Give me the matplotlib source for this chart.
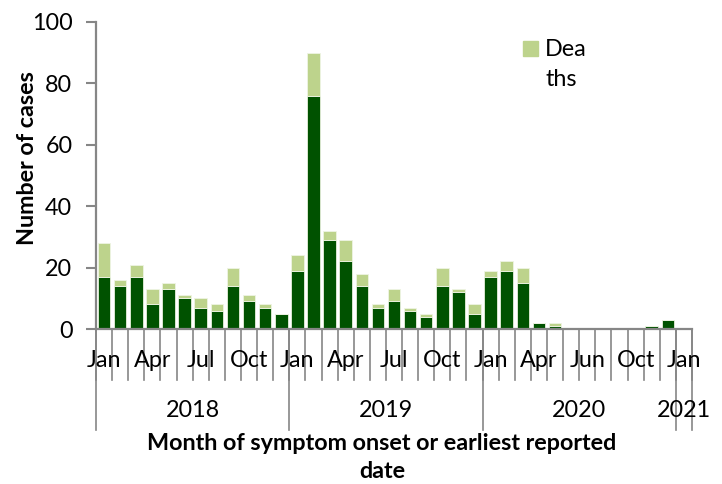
import numpy as np
import matplotlib
matplotlib.use('Agg')
import matplotlib.pyplot as plt
import matplotlib.transforms as mtransforms

plt.rcParams['font.family'] = ['Lato', 'DejaVu Sans']

# monthly counts Jan 2018 - Jan 2021
cases = [17, 14, 17, 8, 13, 10, 7, 6, 14, 9, 7, 5,
         19, 76, 29, 22, 14, 7, 9, 6, 4, 14, 12, 5,
         17, 19, 15, 2, 1, 0, 0, 0, 0, 0, 1, 3,
         0]
deaths = [11, 2, 4, 5, 2, 1, 3, 2, 6, 2, 1, 0,
          5, 14, 3, 7, 4, 1, 4, 1, 1, 6, 1, 3,
          2, 3, 5, 0, 1, 0, 0, 0, 0, 0, 0, 0,
          0]
month_labels = {0: 'Jan', 3: 'Apr', 6: 'Jul', 9: 'Oct',
                12: 'Jan', 15: 'Apr', 18: 'Jul', 21: 'Oct',
                24: 'Jan', 27: 'Apr', 30: 'Jun', 33: 'Oct',
                36: 'Jan'}
years = ['2018', '2019', '2020', '2021']
year_start = [0, 12, 24, 36]
year_end = [12, 24, 36, 37]

dark = '#005200'
light = '#bdd38c'
grey = '#868686'
fs = 16.8

x = np.arange(len(cases))

fig = plt.figure(figsize=(7.22, 4.84), dpi=100)
ax = fig.add_axes([96 / 722, 1 - 329 / 484, 596 / 722, 307 / 484])

ax.bar(x, cases, width=0.78, color=dark, edgecolor='#e8f0dc', linewidth=0.6)
ax.bar(x, deaths, bottom=cases, width=0.78, color=light, edgecolor='#eef4e4', linewidth=0.6)

ax.set_xlim(-0.5, len(cases) - 0.5)
ax.set_ylim(0, 100)
ax.set_yticks([0, 20, 40, 60, 80, 100])
ax.tick_params(axis='y', labelsize=fs, length=7, width=1.5, color=grey, pad=10)
ax.set_xticks([])
for s in ['top', 'right']:
    ax.spines[s].set_visible(False)
for s in ['left', 'bottom']:
    ax.spines[s].set_color(grey)
    ax.spines[s].set_linewidth(1.6)

trans = mtransforms.blended_transform_factory(ax.transData, ax.transAxes)

# month separators
for b in np.arange(len(cases) + 1) - 0.5:
    ax.plot([b, b], [0, -0.166], transform=trans, color=grey, lw=1.2, clip_on=False)
# year separators
for b in year_start + [len(cases)]:
    ax.plot([b - 0.5, b - 0.5], [0, -0.33], transform=trans, color=grey, lw=1.2, clip_on=False)

for i, lab in month_labels.items():
    ax.text(i, -0.101, lab, transform=trans, ha='center', va='center', fontsize=fs)
for yl, s, e in zip(years, year_start, year_end):
    ax.text((s + e - 1) / 2, -0.264, yl, transform=trans, ha='center', va='center', fontsize=fs)

fig.text(28 / 722, 1 - 158 / 484, 'Number of cases', rotation=90, ha='center', va='center',
         fontsize=fs, fontweight='bold')
fig.text(382 / 722, 1 - 443 / 484, 'Month of symptom onset or earliest reported',
         ha='center', va='center', fontsize=fs, fontweight='bold')
fig.text(382 / 722, 1 - 472 / 484, 'date', ha='center', va='center', fontsize=fs, fontweight='bold')

# legend (wrapped like the original)
fig.patches.append(plt.Rectangle((523 / 722, 1 - 56 / 484), 15 / 722, 15 / 484,
                                 transform=fig.transFigure, color=light))
fig.text(545 / 722, 1 - 49 / 484, 'Dea', ha='left', va='center', fontsize=fs)
fig.text(545 / 722, 1 - 80 / 484, 'ths', ha='left', va='center', fontsize=fs)

fig.savefig('out.png', dpi=100)
